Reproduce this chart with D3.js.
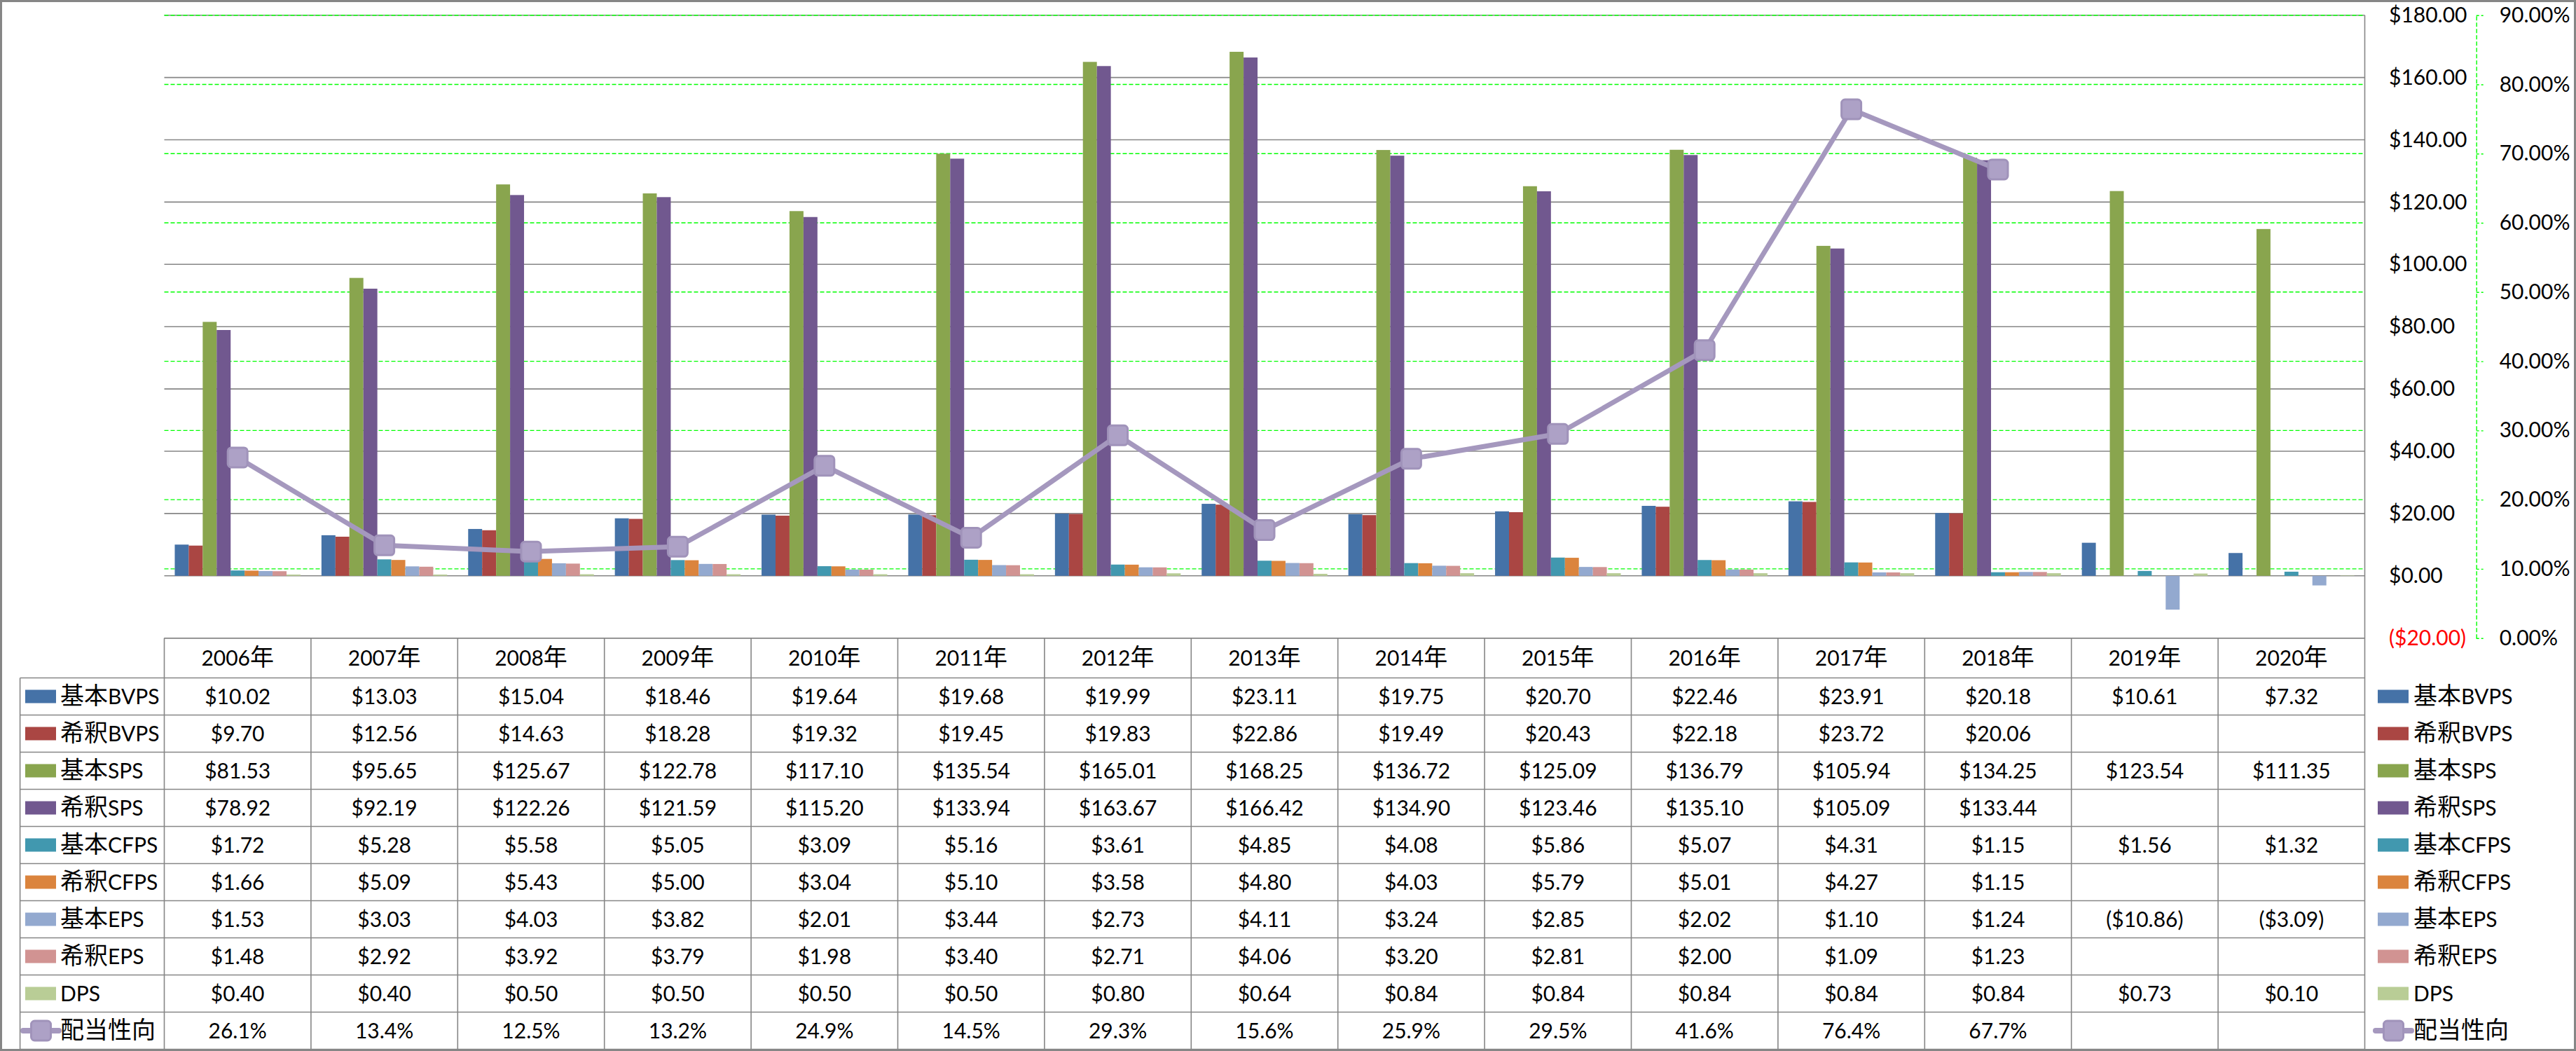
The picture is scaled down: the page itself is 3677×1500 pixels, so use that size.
<!DOCTYPE html>
<html>
<head>
<meta charset="utf-8">
<script src="https://cdn.jsdelivr.net/npm/d3@7"></script>
<style>
  body { margin: 0; background: #fff; }
  svg { display: block; }
</style>
</head>
<body>
<div id="chart"></div>
<script>
// data
const years = ["2006年", "2007年", "2008年", "2009年", "2010年", "2011年", "2012年", "2013年",
  "2014年", "2015年", "2016年", "2017年", "2018年", "2019年", "2020年"];

const seriesNames = ["基本BVPS", "希釈BVPS", "基本SPS", "希釈SPS", "基本CFPS", "希釈CFPS", "基本EPS", "希釈EPS", "DPS"];
const seriesColors = ["#4572A7", "#AA4643", "#89A54E", "#71588F", "#4198AF", "#DB843D", "#93A9CF", "#D19392", "#B9CD96"];

const basicBVPS = [10.02, 13.03, 15.04, 18.46, 19.64, 19.68, 19.99, 23.11, 19.75, 20.70, 22.46, 23.91, 20.18, 10.61, 7.32];
const dilutedBVPS = [9.70, 12.56, 14.63, 18.28, 19.32, 19.45, 19.83, 22.86, 19.49, 20.43, 22.18, 23.72, 20.06, null, null];
const basicSPS = [81.53, 95.65, 125.67, 122.78, 117.10, 135.54, 165.01, 168.25, 136.72, 125.09, 136.79, 105.94, 134.25, 123.54, 111.35];
const dilutedSPS = [78.92, 92.19, 122.26, 121.59, 115.20, 133.94, 163.67, 166.42, 134.90, 123.46, 135.10, 105.09, 133.44, null, null];
const basicCFPS = [1.72, 5.28, 5.58, 5.05, 3.09, 5.16, 3.61, 4.85, 4.08, 5.86, 5.07, 4.31, 1.15, 1.56, 1.32];
const dilutedCFPS = [1.66, 5.09, 5.43, 5.00, 3.04, 5.10, 3.58, 4.80, 4.03, 5.79, 5.01, 4.27, 1.15, null, null];
const basicEPS = [1.53, 3.03, 4.03, 3.82, 2.01, 3.44, 2.73, 4.11, 3.24, 2.85, 2.02, 1.10, 1.24, -10.86, -3.09];
const dilutedEPS = [1.48, 2.92, 3.92, 3.79, 1.98, 3.40, 2.71, 4.06, 3.20, 2.81, 2.00, 1.09, 1.23, null, null];
const dps = [0.40, 0.40, 0.50, 0.50, 0.50, 0.50, 0.80, 0.64, 0.84, 0.84, 0.84, 0.84, 0.84, 0.73, 0.10];

const lineName = "配当性向";
const payoutRatio = [26.1, 13.4, 12.5, 13.2, 24.9, 14.5, 29.3, 15.6, 25.9, 29.5, 41.6, 76.4, 67.7, null, null];

const yTicks = [-20, 0, 20, 40, 60, 80, 100, 120, 140, 160, 180];
const y2Ticks = [0, 10, 20, 30, 40, 50, 60, 70, 80, 90];

const barSeries = [basicBVPS, dilutedBVPS, basicSPS, dilutedSPS, basicCFPS, dilutedCFPS, basicEPS, dilutedEPS, dps];

const W = 3677, H = 1500;
const plotLeft = 234.5, plotRight = 3375.5, plotTop = 21.7, plotBottom = 910.7;
const tableLeft = 28.6, headerBottom = 967.5, rowH = 53;
const font = "Lato, 'Noto Sans CJK JP', sans-serif";
const gray = "#868686";
const lineColor = "#A598BE";

const money = v => v < 0 ? `($${Math.abs(v).toFixed(2)})` : `$${v.toFixed(2)}`;

// CJK glyphs sit a bit larger than the latin text in the original
function richText(sel, str) {
  const parts = str.match(/[\u3000-\u9fff]+|[^\u3000-\u9fff]+/g) || [];
  parts.forEach(p => {
    sel.append("tspan")
        .attr("font-size", /[\u3000-\u9fff]/.test(p) ? 34 : 30)
        .text(p);
  });
}

const svg = d3.select("#chart").append("svg")
    .attr("width", W)
    .attr("height", H)
    .style("font-family", font);

const x0 = d3.scaleBand().domain(years).range([plotLeft, plotRight]);
const bw = x0.bandwidth();
const barW = bw / 10.5;   // gap width 150%
const x1 = d3.scaleBand().domain(seriesNames).range([0.75 * barW, bw - 0.75 * barW]);

const y = d3.scaleLinear().domain([-20, 180]).range([plotBottom, plotTop]);
const y2 = d3.scaleLinear().domain([0, 90]).range([plotBottom, plotTop]);

// gridlines
svg.append("g")
    .selectAll("line")
    .data(yTicks)
    .join("line")
    .attr("x1", plotLeft).attr("x2", plotRight)
    .attr("y1", d => y(d)).attr("y2", d => y(d))
    .attr("stroke", gray).attr("stroke-width", 1.6);

svg.append("g")
    .selectAll("line")
    .data(y2Ticks.filter(d => d > 0))
    .join("line")
    .attr("x1", plotLeft).attr("x2", plotRight)
    .attr("y1", d => y2(d)).attr("y2", d => y2(d))
    .attr("stroke", "#00FF00").attr("stroke-width", 1.4)
    .attr("stroke-dasharray", "6,3");

// bars
const barData = [];
years.forEach((yr, i) => {
  barSeries.forEach((s, j) => {
    if (s[i] != null) barData.push({ year: yr, name: seriesNames[j], color: seriesColors[j], value: s[i] });
  });
});

svg.append("g")
    .selectAll("rect")
    .data(barData)
    .join("rect")
    .attr("x", d => x0(d.year) + x1(d.name))
    .attr("width", x1.bandwidth())
    .attr("y", d => y(Math.max(0, d.value)))
    .attr("height", d => Math.abs(y(d.value) - y(0)))
    .attr("fill", d => d.color);

// payout ratio line
const cx = i => x0(years[i]) + bw / 2;
const line = d3.line()
    .defined(d => d != null)
    .x((d, i) => cx(i))
    .y(d => y2(d));

svg.append("path")
    .datum(payoutRatio)
    .attr("fill", "none")
    .attr("stroke", lineColor)
    .attr("stroke-width", 7)
    .attr("stroke-linejoin", "round")
    .attr("d", line);

function marker(g, x, yy) {
  g.append("rect")
      .attr("x", x - 14).attr("y", yy - 14)
      .attr("width", 28).attr("height", 28)
      .attr("rx", 5)
      .attr("fill", "#ADA1C6")
      .attr("stroke", "#A093BA")
      .attr("stroke-width", 3);
}

const markers = svg.append("g");
payoutRatio.forEach((v, i) => { if (v != null) marker(markers, cx(i), y2(v)); });

// primary axis labels (right side)
const yAxis = svg.append("g")
    .attr("transform", `translate(3410,0)`)
    .call(d3.axisRight(y).tickValues(yTicks).tickFormat(money).tickSize(0).tickPadding(0));
yAxis.select(".domain").remove();
yAxis.selectAll("text")
    .attr("font-family", font)
    .attr("font-size", 30)
    .attr("fill", d => d < 0 ? "#FF0000" : "#000");

// secondary axis
const y2Axis = svg.append("g")
    .attr("transform", `translate(3534.7,0)`)
    .call(d3.axisRight(y2).tickValues(y2Ticks).tickFormat(d => d.toFixed(2) + "%").tickSize(10).tickSizeOuter(0).tickPadding(23));
y2Axis.select(".domain")
    .attr("stroke", "#00FF00").attr("stroke-width", 1.4).attr("stroke-dasharray", "6,3");
y2Axis.selectAll(".tick line")
    .attr("stroke", "#00FF00").attr("stroke-width", 1.4).attr("stroke-dasharray", "4,3");
y2Axis.selectAll("text")
    .attr("font-family", font)
    .attr("font-size", 30)
    .attr("fill", "#000");

// data table
const table = svg.append("g");
const rowY = i => headerBottom + i * rowH;
const rowCount = barSeries.length + 1;
const tableBottom = rowY(rowCount);

table.append("line")
    .attr("x1", plotLeft).attr("x2", plotRight)
    .attr("y1", plotBottom).attr("y2", plotBottom)
    .attr("stroke", gray).attr("stroke-width", 1.6);

table.selectAll("line.h")
    .data(d3.range(rowCount + 1))
    .join("line")
    .attr("class", "h")
    .attr("x1", tableLeft).attr("x2", plotRight)
    .attr("y1", d => rowY(d)).attr("y2", d => rowY(d))
    .attr("stroke", gray).attr("stroke-width", 1.6);

table.selectAll("line.v")
    .data(years.map(d => x0(d)))
    .join("line")
    .attr("class", "v")
    .attr("x1", d => d).attr("x2", d => d)
    .attr("y1", plotBottom).attr("y2", tableBottom)
    .attr("stroke", gray).attr("stroke-width", 1.6);

table.append("line")
    .attr("x1", tableLeft).attr("x2", tableLeft)
    .attr("y1", headerBottom).attr("y2", tableBottom)
    .attr("stroke", gray).attr("stroke-width", 1.6);

// right border of plot + table
svg.append("line")
    .attr("x1", plotRight).attr("x2", plotRight)
    .attr("y1", plotTop).attr("y2", tableBottom)
    .attr("stroke", gray).attr("stroke-width", 1.6);

table.selectAll("text.year")
    .data(years)
    .join("text")
    .attr("class", "year")
    .attr("x", d => x0(d) + bw / 2)
    .attr("y", (plotBottom + headerBottom) / 2)
    .attr("dy", "0.35em")
    .attr("text-anchor", "middle")
    .attr("font-size", 30)
    .each(function(d) { richText(d3.select(this), d); });

const rows = barSeries.map((s, j) => ({ name: seriesNames[j], color: seriesColors[j], cells: s.map(v => v == null ? "" : money(v)) }));
rows.push({ name: lineName, line: true, cells: payoutRatio.map(v => v == null ? "" : v.toFixed(1) + "%") });

rows.forEach((r, i) => {
  const cy = rowY(i) + rowH / 2;
  table.append("g")
      .selectAll("text")
      .data(r.cells)
      .join("text")
      .attr("x", (d, k) => x0(years[k]) + bw / 2)
      .attr("y", cy)
      .attr("dy", "0.35em")
      .attr("text-anchor", "middle")
      .attr("font-size", 30)
      .text(d => d);
});

// legend keys: inside the table and at the right
function legendKey(g, r, kx, cy) {
  if (r.line) {
    g.append("line")
        .attr("x1", kx - 3).attr("x2", kx + 48)
        .attr("y1", cy).attr("y2", cy)
        .attr("stroke", lineColor).attr("stroke-width", 8).attr("stroke-linecap", "round");
    marker(g, kx + 22.5, cy);
  } else {
    g.append("rect")
        .attr("x", kx).attr("y", cy - 9.5)
        .attr("width", 44).attr("height", 19)
        .attr("fill", r.color);
  }
}

rows.forEach((r, i) => {
  const cy = rowY(i) + rowH / 2;
  legendKey(table, r, 36, cy);
  table.append("text")
      .attr("x", 86).attr("y", cy).attr("dy", "0.36em")
      .attr("font-size", 30)
      .call(t => richText(t, r.name));

  legendKey(svg, r, 3394, cy);
  svg.append("text")
      .attr("x", 3445).attr("y", cy).attr("dy", "0.36em")
      .attr("font-size", 30)
      .call(t => richText(t, r.name));
});

// outer frame
svg.append("rect")
    .attr("x", 1.5).attr("y", 1.5)
    .attr("width", W - 3).attr("height", H - 3)
    .attr("fill", "none")
    .attr("stroke", gray)
    .attr("stroke-width", 3);
</script>
</body>
</html>
